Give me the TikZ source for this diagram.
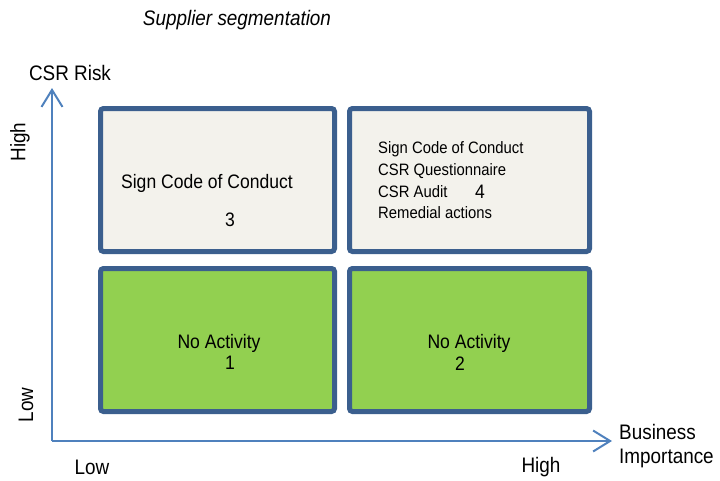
\documentclass[tikz,border=0pt]{standalone}
\usepackage{graphicx}
\usepackage{fontspec}
\setmainfont{Liberation Sans}
\usetikzlibrary{arrows.meta}
\definecolor{boxborder}{HTML}{3B5F8E}
\definecolor{boxlight}{HTML}{F3F2EC}
\definecolor{boxgreen}{HTML}{92D050}
\definecolor{axisblue}{HTML}{4F81BD}
\newcommand{\cnd}[1]{\scalebox{0.9}[1]{#1}}
\tikzset{
  cell/.style={draw=boxborder, line width=5pt, rounded corners=3pt, minimum height=143pt, inner sep=0pt},
  lightcell/.style={cell, fill=boxlight},
  greencell/.style={cell, fill=boxgreen},
  axisline/.style={draw=axisblue, line width=2pt, -{Straight Barb[length=17pt,width=21pt,line width=2pt]}},
  lbl/.style={inner sep=0pt, font=\fontsize{21}{24}\selectfont},
  celltxt/.style={inner sep=0pt, font=\fontsize{19.5}{22}\selectfont},
  smalltxt/.style={inner sep=0pt, anchor=west, font=\fontsize{16.5}{19}\selectfont},
}
\begin{document}
\begin{tikzpicture}[x=1pt,y=-1pt]
\useasboundingbox (0,0) rectangle (720,480);
% cells
\node[lightcell, minimum width=234pt] (c3) at (217.5,180) {};
\node[lightcell, minimum width=240pt] (c4) at (469.5,180) {};
\node[greencell, minimum width=234pt] (c1) at (217.5,340) {};
\node[greencell, minimum width=240pt] (c2) at (469.5,340) {};
% axes
\coordinate (o) at (52,441);
\coordinate (ytip) at (52,88);
\coordinate (xtip) at (612,441);
\draw[axisline] (o) -- (ytip);
\draw[axisline] (o) -- (xtip);
% titles and labels
\node[lbl, font=\fontsize{21}{24}\selectfont\itshape] (title) at (237,20) {\cnd{Supplier segmentation}};
\node[lbl] (yname) at (70,73) {\cnd{CSR Risk}};
\node[lbl, rotate=90] (yhigh) at (20,142) {\cnd{High}};
\node[lbl, rotate=90] (ylow) at (26,405) {\cnd{Low}};
\node[lbl] (xlow) at (92,467) {\cnd{Low}};
\node[lbl] (xhigh) at (541,467) {\cnd{High}};
\node[lbl, anchor=west] (xname1) at (619,432) {\cnd{Business}};
\node[lbl, anchor=west] (xname2) at (619,458) {\cnd{Importance}};
% cell texts
\node[celltxt] (t3) at (207,183) {\cnd{Sign Code of Conduct}};
\node[celltxt] (n3) at (230,220) {\cnd{3}};
\node[smalltxt] (t4a) at (378,149) {\cnd{Sign Code of Conduct}};
\node[smalltxt] (t4b) at (378,171) {\cnd{CSR Questionnaire}};
\node[smalltxt] (t4c) at (378,192) {\cnd{CSR Audit}};
\node[celltxt] (n4) at (480,192) {\cnd{4}};
\node[smalltxt] (t4d) at (378,213) {\cnd{Remedial actions}};
\node[celltxt] (t1) at (219,343) {\cnd{No Activity}};
\node[celltxt] (n1) at (230,363) {\cnd{1}};
\node[celltxt] (t2) at (469,343) {\cnd{No Activity}};
\node[celltxt] (n2) at (460,364) {\cnd{2}};
\end{tikzpicture}
\end{document}
